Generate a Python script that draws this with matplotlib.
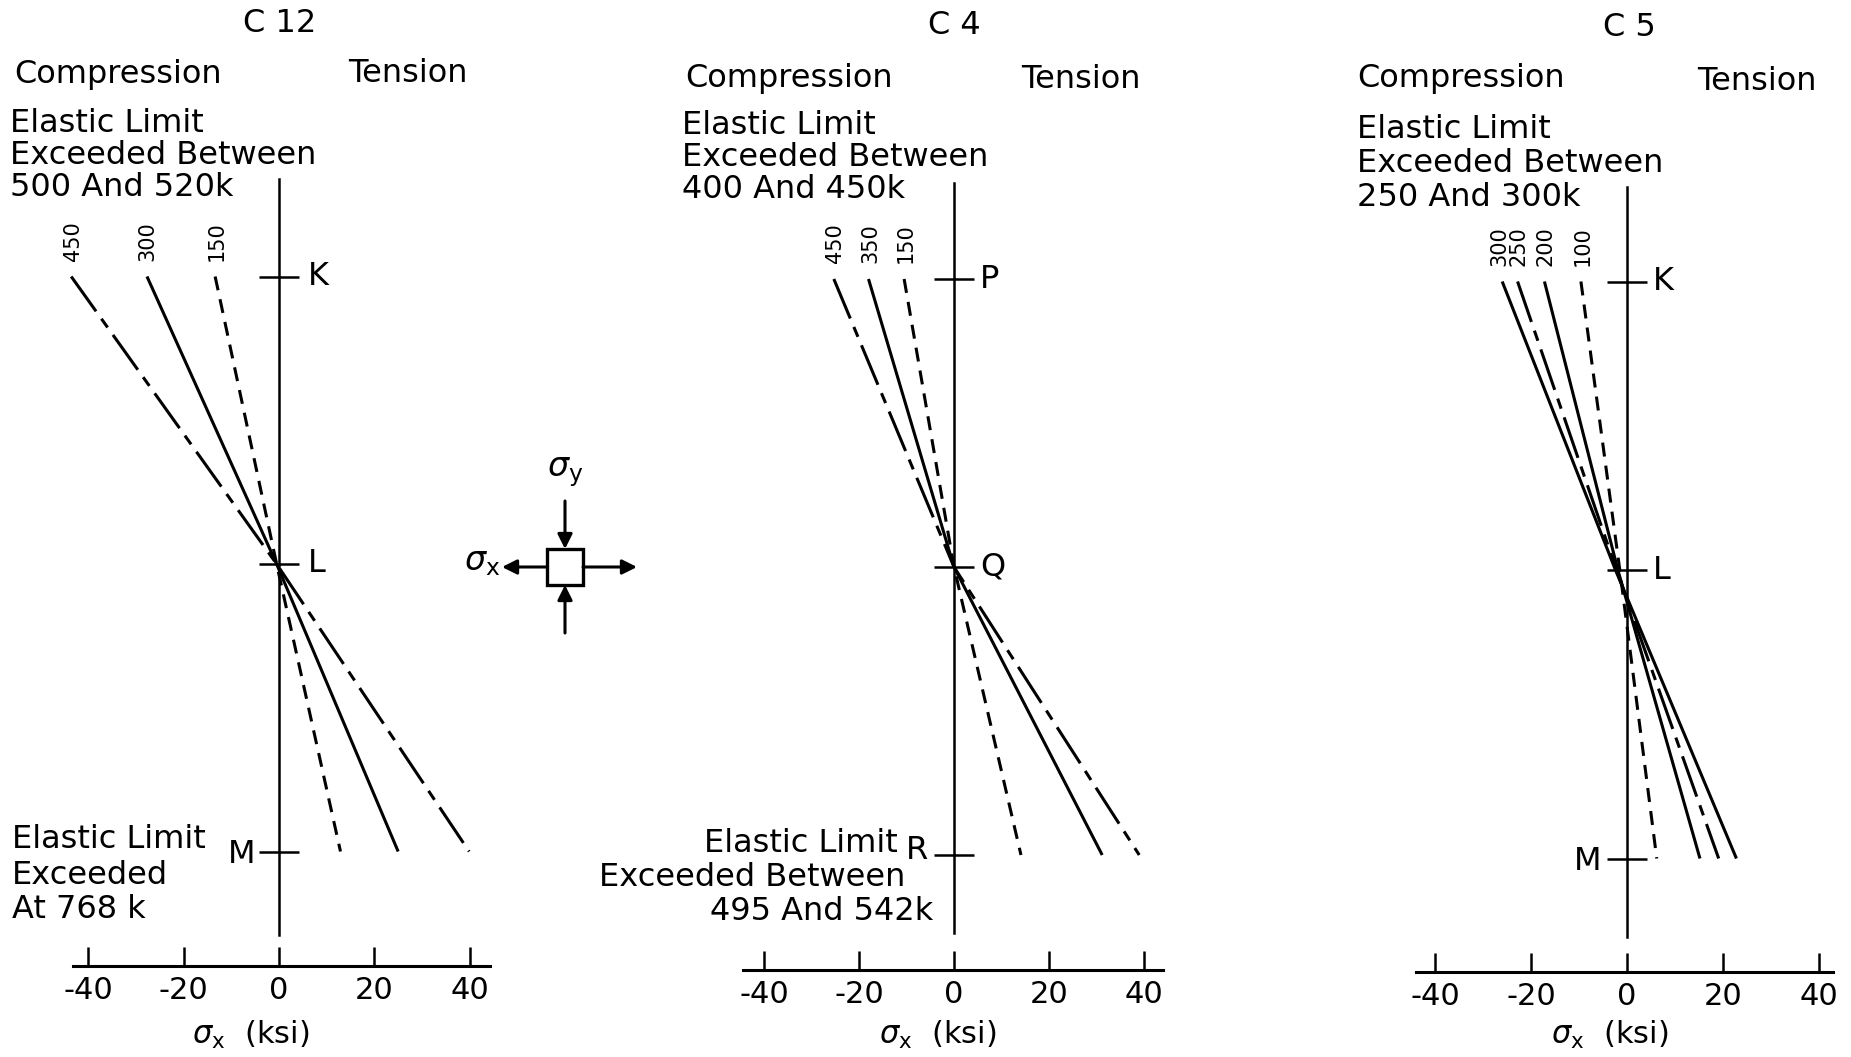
import numpy as np
import matplotlib.pyplot as plt
from matplotlib.patches import Rectangle

plt.rcParams['font.family'] = ['DejaVu Sans']
plt.rcParams['mathtext.fontset'] = 'dejavusans'

W, H = 1851, 1057

# ---- data (sigma_x in ksi at the three gauge stations: top, middle, bottom)
panel_names = ['C 12', 'C 4', 'C 5']
station_labels = [['K', 'L', 'M'], ['P', 'Q', 'R'], ['K', 'L', 'M']]
station_pos = [1, 0, -1]
x_ticks = [-40, -20, 0, 20, 40]
x_tick_labels = ['-40', '-20', '0', '20', '40']

c12_loads = ['450', '300', '150']
c12_sigma = [[-43.6, -0.5, 39.9],
             [-27.7, -0.5, 25.0],
             [-13.4, -0.5, 12.9]]
c12_styles = ['dashdot', 'solid', 'dashed']

c4_loads = ['450', '350', '150']
c4_sigma = [[-25.3, 0.0, 39.0],
            [-18.0, 0.0, 31.2],
            [-10.5, 0.0, 14.1]]
c4_styles = ['dashdot', 'solid', 'dashed']

c5_loads = ['300', '250', '200', '100']
c5_sigma = [[-26.0, -2.4, 22.8],
            [-22.8, -2.2, 19.1],
            [-17.2, -1.9, 15.2],
            [-9.6, -1.5, 6.2]]
c5_styles = ['solid', 'dashdot', 'solid', 'dashed']

c12_top_note = ['Elastic Limit', 'Exceeded Between', '500 And 520k']
c12_bot_note = ['Elastic Limit', 'Exceeded', 'At 768 k']
c4_top_note = ['Elastic Limit', 'Exceeded Between', '400 And 450k']
c4_bot_note = ['Elastic Limit', 'Exceeded Between', '495 And 542k']
c5_top_note = ['Elastic Limit', 'Exceeded Between', '250 And 300k']

FS = 23
TICK_FS = 22
LW = 2.2
dash_styles = {'solid': '-',
               'dashed': (0, (4.6, 3.0)),
               'dashdot': (0, (14, 3, 3.5, 3))}

fig = plt.figure(figsize=(W / 100, H / 100), dpi=100)
fig.patch.set_facecolor('white')


def fx(px):
    return px / W


def fy(py):
    return 1 - py / H


def make_panel(x0, sx, yL, sy, yaxis_line, vtop, vbot, xspan, xlab_dx):
    xl, yl = (-52, 52), (-1.8, 1.8)
    left = (x0 + xl[0] * sx) / W
    bottom = 1 - (yL - yl[0] * sy) / H
    ax = fig.add_axes([left, bottom, (xl[1] - xl[0]) * sx / W, (yl[1] - yl[0]) * sy / H])
    ax.set_xlim(xl)
    ax.set_ylim(yl)
    ax.patch.set_alpha(0)
    for s in ['top', 'right']:
        ax.spines[s].set_visible(False)
    ax.spines['left'].set_position(('data', 0))
    ax.spines['left'].set_bounds(-(vbot - yL) / sy, (yL - vtop) / sy)
    ax.spines['left'].set_linewidth(1.8)
    ax.spines['bottom'].set_position(('data', -(yaxis_line - yL) / sy))
    ax.spines['bottom'].set_bounds(*xspan)
    ax.spines['bottom'].set_linewidth(2.2)
    ax.set_yticks(station_pos)
    ax.tick_params(axis='y', direction='inout', length=29, width=1.8, labelleft=False)
    ax.set_xticks(x_ticks, labels=x_tick_labels)
    ax.tick_params(axis='x', direction='in', length=14, width=1.8, labelsize=TICK_FS, pad=7)
    ax.text(xlab_dx, -(1035 - yL) / sy, r'$\sigma_{\mathrm{x}}$  (ksi)', fontsize=TICK_FS,
            ha='center', va='center', clip_on=False)
    return ax


def draw_lines(ax, sigma, styles, loads, nudge=None):
    if nudge is None:
        nudge = [0.0] * len(loads)
    for vals, st, ld, dx in zip(sigma, styles, loads, nudge):
        ax.plot(vals, station_pos, color='black', lw=LW, linestyle=dash_styles[st],
                solid_capstyle='butt', dash_capstyle='butt')
        ax.text(vals[0] + dx, 1.055, ld, rotation=90, fontsize=15,
                ha='center', va='bottom')


def note(lines, x, ys, ha='left'):
    for t, y in zip(lines, ys):
        fig.text(fx(x), fy(y), t, fontsize=FS, ha=ha, va='center')


# ---- panel C 12
ax1 = make_panel(279, 4.766, 564, 287.5, 966, 179, 935, (-43.3, 44.3), -6.0)
draw_lines(ax1, c12_sigma, c12_styles, c12_loads, [0.4, 0.0, 0.3])
ax1.text(6.0, 1, station_labels[0][0], fontsize=FS, ha='left', va='center')
ax1.text(6.0, 0, station_labels[0][1], fontsize=FS, ha='left', va='center')
ax1.text(-5.0, -1.01, station_labels[0][2], fontsize=FS, ha='right', va='center')
fig.text(fx(280), fy(24), panel_names[0], fontsize=FS, ha='center', va='center')
fig.text(fx(14), fy(74), 'Compression', fontsize=FS, ha='left', va='center')
fig.text(fx(348), fy(74), 'Tension', fontsize=FS, ha='left', va='center')
note(c12_top_note, 10, [124, 156, 187])
note(c12_bot_note, 12, [840, 876, 909])

# ---- panel C 4
ax2 = make_panel(954, 4.75, 567, 288, 970, 183, 933, (-44.5, 44.0), -3.5)
draw_lines(ax2, c4_sigma, c4_styles, c4_loads, [0.3, 0.3, 0.3])
ax2.text(5.5, 1, station_labels[1][0], fontsize=FS, ha='left', va='center')
ax2.text(5.5, 0, station_labels[1][1], fontsize=FS, ha='left', va='center')
ax2.text(-5.4, -0.985, station_labels[1][2], fontsize=FS, ha='right', va='center')
fig.text(fx(954), fy(26), panel_names[1], fontsize=FS, ha='center', va='center')
fig.text(fx(685), fy(78), 'Compression', fontsize=FS, ha='left', va='center')
fig.text(fx(1021), fy(80), 'Tension', fontsize=FS, ha='left', va='center')
note(c4_top_note, 682, [125, 158, 190])
fig.text(fx(898), fy(843), c4_bot_note[0], fontsize=FS, ha='right', va='center')
fig.text(fx(905), fy(878), c4_bot_note[1], fontsize=FS, ha='right', va='center')
fig.text(fx(933), fy(911), c4_bot_note[2], fontsize=FS, ha='right', va='center')

# ---- panel C 5
ax3 = make_panel(1627, 4.8, 570, 288.5, 972, 187, 937, (-44.0, 43.0), -3.7)
draw_lines(ax3, c5_sigma, c5_styles, c5_loads, [-0.5, 0.1, 0.2, 0.4])
ax3.text(5.4, 1, station_labels[2][0], fontsize=FS, ha='left', va='center')
ax3.text(5.4, 0, station_labels[2][1], fontsize=FS, ha='left', va='center')
ax3.text(-5.4, -1.01, station_labels[2][2], fontsize=FS, ha='right', va='center')
fig.text(fx(1629), fy(28), panel_names[2], fontsize=FS, ha='center', va='center')
fig.text(fx(1357), fy(78), 'Compression', fontsize=FS, ha='left', va='center')
fig.text(fx(1697), fy(81), 'Tension', fontsize=FS, ha='left', va='center')
note(c5_top_note, 1357, [129, 163, 198])

# ---- stress element sketch (pixel space overlay)
el = fig.add_axes([0, 0, 1, 1])
el.set_xlim(0, W)
el.set_ylim(H, 0)
el.axis('off')
el.patch.set_alpha(0)
cx, cy, half = 565, 567, 18
el.add_patch(Rectangle((cx - half, cy - half), 2 * half, 2 * half,
                       fill=False, lw=2.4, ec='black'))
arr = dict(arrowstyle='-|>', lw=2.2, color='black', mutation_scale=22,
           shrinkA=0, shrinkB=0)
el.annotate('', xy=(cx - half - 45, cy), xytext=(cx - half, cy), arrowprops=arr)
el.annotate('', xy=(cx + half + 54, cy), xytext=(cx + half, cy), arrowprops=arr)
el.annotate('', xy=(cx, cy - half), xytext=(cx, cy - half - 48), arrowprops=arr)
el.annotate('', xy=(cx, cy + half), xytext=(cx, cy + half + 48), arrowprops=arr)
el.text(cx, cy - 95, r'$\sigma_{\mathrm{y}}$', fontsize=FS + 1, ha='center', va='center')
el.text(cx - half - 47, cy - 6, r'$\sigma_{\mathrm{x}}$', fontsize=FS + 1, ha='right', va='center')

fig.savefig('out.png', dpi=100, facecolor='white')
